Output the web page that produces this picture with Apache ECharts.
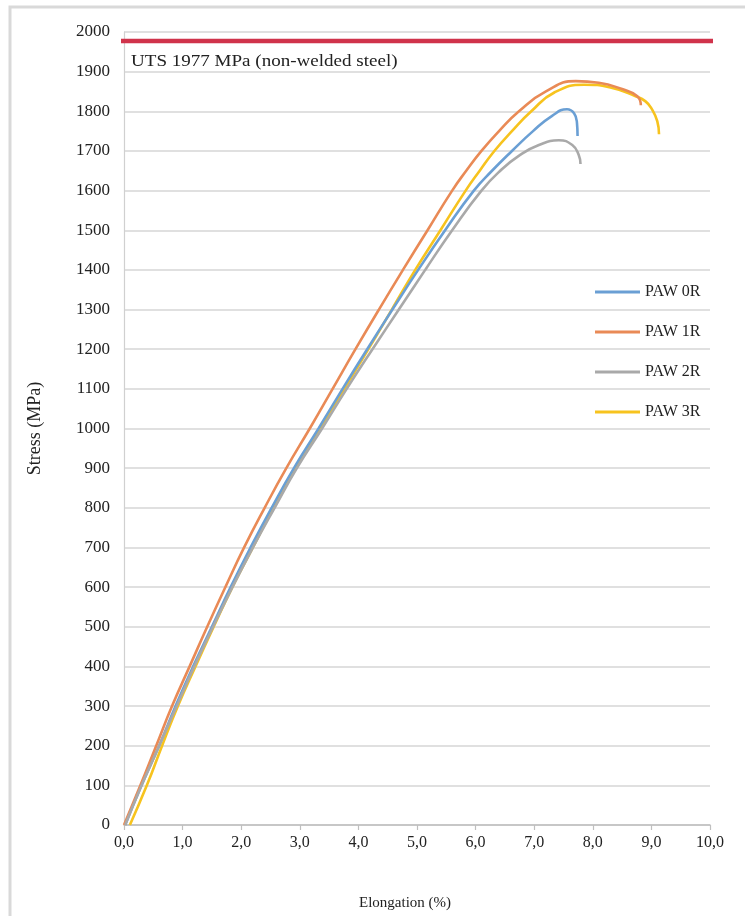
<!DOCTYPE html>
<html>
<head>
<meta charset="utf-8">
<style>
  html, body { margin: 0; padding: 0; background: #ffffff; }
  #chart { width: 745px; height: 916px; }
</style>
<script src="https://cdn.jsdelivr.net/npm/echarts@6/dist/echarts.min.js"></script>
</head>
<body>
<div id="chart"></div>
<script>
// Stress–strain curves of plasma-arc-welded specimens: [elongation %, stress MPa]
const seriesNames = ['PAW 0R', 'PAW 1R', 'PAW 2R', 'PAW 3R'];

const paw0R = [
  [0.02, 0], [0.30, 100], [0.60, 200], [0.88, 300], [1.18, 400], [1.50, 500],
  [1.82, 600], [2.16, 700], [2.52, 800], [2.90, 900], [3.32, 1000], [3.73, 1100],
  [4.15, 1200], [4.58, 1300], [5.02, 1400], [5.48, 1500], [5.97, 1600], [6.28, 1650],
  [6.62, 1700], [6.98, 1750], [7.30, 1788], [7.56, 1805], [7.68, 1795], [7.73, 1770],
  [7.74, 1738]
];
const paw1R = [
  [0.00, 0], [0.28, 100], [0.55, 200], [0.82, 300], [1.12, 400], [1.42, 500],
  [1.73, 600], [2.05, 700], [2.40, 800], [2.77, 900], [3.17, 1000], [3.56, 1100],
  [3.95, 1200], [4.35, 1300], [4.76, 1400], [5.18, 1500], [5.60, 1600], [5.84, 1650],
  [6.10, 1700], [6.40, 1750], [6.74, 1800], [7.20, 1850], [7.71, 1876], [8.10, 1872],
  [8.50, 1856], [8.76, 1838], [8.82, 1815]
];
const paw2R = [
  [0.02, 0], [0.30, 100], [0.60, 200], [0.90, 300], [1.20, 400], [1.52, 500],
  [1.85, 600], [2.20, 700], [2.57, 800], [2.95, 900], [3.38, 1000], [3.80, 1100],
  [4.24, 1200], [4.69, 1300], [5.14, 1400], [5.60, 1500], [6.10, 1600], [6.42, 1650],
  [6.76, 1690], [7.08, 1715], [7.42, 1727], [7.65, 1715], [7.76, 1690], [7.79, 1667]
];
const paw3R = [
  [0.10, 0], [0.39, 100], [0.65, 200], [0.92, 300], [1.22, 400], [1.53, 500],
  [1.85, 600], [2.20, 700], [2.55, 800], [2.93, 900], [3.35, 1000], [3.76, 1100],
  [4.17, 1200], [4.57, 1300], [4.97, 1400], [5.40, 1500], [5.83, 1600], [6.07, 1650],
  [6.32, 1700], [6.62, 1750], [6.95, 1800], [7.35, 1848], [7.85, 1867], [8.30, 1860],
  [8.73, 1838], [8.90, 1825], [9.01, 1805], [9.10, 1775], [9.13, 1742]
];

// Reference strength of the base metal
const utsValue = 1977;
const utsSpan = [-0.13, 10.17];
const utsLabel = 'UTS 1977 MPa (non-welded steel)';

// Axis ticks
const xTickLabels = ['0,0', '1,0', '2,0', '3,0', '4,0', '5,0', '6,0', '7,0', '8,0', '9,0', '10,0'];
const yTickValues = [0, 100, 200, 300, 400, 500, 600, 700, 800, 900, 1000,
  1100, 1200, 1300, 1400, 1500, 1600, 1700, 1800, 1900, 2000];

const colors = ['#6a9fd4', '#e98a56', '#a9a9a9', '#f7c31e'];
const curves = [paw0R, paw1R, paw2R, paw3R];
const serif = '"Liberation Serif", "DejaVu Serif", serif';

const chart = echarts.init(document.getElementById('chart'), null, { renderer: 'canvas' });

const lineSeries = curves.map((data, i) => ({
  name: seriesNames[i],
  type: 'line',
  data: data,
  smooth: 0.5,
  symbol: 'none',
  lineStyle: { width: 2.6, color: colors[i] },
  itemStyle: { color: colors[i] },
  z: 3 + (i === 3 ? 0 : 1)
}));

lineSeries.push({
  name: 'UTS',
  type: 'line',
  data: [[utsSpan[0], utsValue], [utsSpan[1], utsValue]],
  symbol: 'none',
  clip: false,
  lineStyle: { width: 4.5, color: '#d0334b' },
  z: 6
});

const option = {
  animation: false,
  backgroundColor: '#ffffff',
  grid: { left: 124, right: 35, top: 32, bottom: 85, containLabel: false },
  xAxis: {
    type: 'value',
    min: 0, max: 10, interval: 1,
    name: 'Elongation (%)',
    nameLocation: 'middle',
    nameGap: 71,
    nameTextStyle: { fontFamily: serif, fontSize: 15, color: '#222', padding: [0, 24, 0, 0] },
    axisLine: { show: true, lineStyle: { color: '#bfbfbf', width: 1.5 } },
    axisTick: { show: true, length: 5, lineStyle: { color: '#bfbfbf', width: 1.2 } },
    axisLabel: {
      fontFamily: serif, fontSize: 16, color: '#222', margin: 10,
      formatter: (v) => xTickLabels[Math.round(v)]
    },
    splitLine: { show: false }
  },
  yAxis: {
    type: 'value',
    min: 0, max: 2000, interval: 100,
    name: 'Stress (MPa)',
    nameLocation: 'middle',
    nameGap: 80,
    nameRotate: 90,
    nameTextStyle: { fontFamily: serif, fontSize: 18, color: '#222' },
    axisLine: { show: true, lineStyle: { color: '#d0d0d0', width: 1.2 } },
    axisTick: { show: false },
    axisLabel: {
      fontFamily: serif, fontSize: 17, color: '#222', margin: 14,
      formatter: (v) => (yTickValues.indexOf(v) >= 0 ? String(v) : '')
    },
    splitLine: { show: true, lineStyle: { color: '#d6d6d6', width: 1.5 } }
  },
  legend: {
    data: seriesNames,
    orient: 'vertical',
    left: 590,
    top: 279,
    icon: 'rect',
    itemWidth: 45,
    itemHeight: 3,
    itemGap: 24,
    textStyle: { fontFamily: serif, fontSize: 16, color: '#222' }
  },
  graphic: [
    {
      type: 'rect',
      shape: { x: 10, y: 7, width: 800, height: 1000 },
      style: { fill: 'none', stroke: '#d9d9d9', lineWidth: 3 },
      silent: true, z: -1
    },
    {
      type: 'text',
      x: 131, y: 53,
      scaleX: 1.12,
      style: { text: utsLabel, font: '17px ' + serif, fill: '#222' }
    }
  ],
  series: lineSeries
};

chart.setOption(option);
</script>
</body>
</html>
